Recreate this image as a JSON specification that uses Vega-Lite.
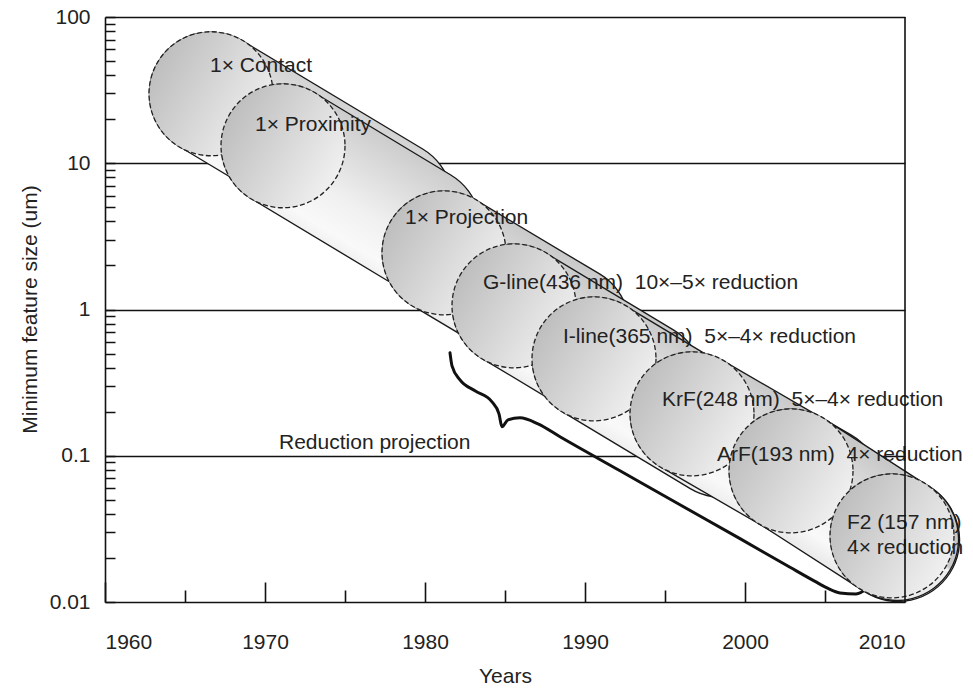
{
  "$schema": "https://vega.github.io/schema/vega-lite/v6.json",
  "width": 800,
  "height": 585,
  "autosize": "none",
  "padding": {"left": 105, "top": 17, "right": 68, "bottom": 88},
  "background": "white",
  "config": {"view": {"stroke": null}, "font": "Liberation Sans"},
  "datasets": {
    "bodies": [
      {"cyl": 1, "part": "o", "year": 1966.625, "um": 29.88, "year2": 1977.875, "um2": 5.454},
      {"cyl": 1, "part": "f", "year": 1966.625, "um": 29.88, "year2": 1977.875, "um2": 5.454},
      {"cyl": 2, "part": "o", "year": 1971.125, "um": 13.17, "year2": 1979.625, "um2": 3.622},
      {"cyl": 2, "part": "f", "year": 1971.125, "um": 13.17, "year2": 1979.625, "um2": 3.622},
      {"cyl": 3, "part": "o", "year": 1981.1875, "um": 2.442, "year2": 1988.9375, "um2": 0.7614},
      {"cyl": 3, "part": "f", "year": 1981.1875, "um": 2.442, "year2": 1988.9375, "um2": 0.7614},
      {"cyl": 4, "part": "o", "year": 1985.5625, "um": 1.06, "year2": 1993.5625, "um2": 0.3152},
      {"cyl": 4, "part": "f", "year": 1985.5625, "um": 1.06, "year2": 1993.5625, "um2": 0.3152},
      {"cyl": 5, "part": "o", "year": 1990.5625, "um": 0.46, "year2": 1998.5625, "um2": 0.1368},
      {"cyl": 5, "part": "f", "year": 1990.5625, "um": 0.46, "year2": 1998.5625, "um2": 0.1368},
      {"cyl": 6, "part": "o", "year": 1996.6875, "um": 0.1935, "year2": 2004.6875, "um2": 0.06004},
      {"cyl": 6, "part": "f", "year": 1996.6875, "um": 0.1935, "year2": 2004.6875, "um2": 0.06004},
      {"cyl": 7, "part": "o", "year": 2002.875, "um": 0.0788, "year2": 2009.5625, "um2": 0.02659},
      {"cyl": 7, "part": "f", "year": 2002.875, "um": 0.0788, "year2": 2009.5625, "um2": 0.02659},
      {"cyl": 8, "part": "o", "year": 2009.1875, "um": 0.02832, "year2": 2009.5, "um2": 0.02702},
      {"cyl": 8, "part": "f", "year": 2009.1875, "um": 0.02832, "year2": 2009.5, "um2": 0.02702}
    ],
    "caps": [
      {"name": "1× Contact", "year": 1966.625, "um": 29.88},
      {"name": "1× Proximity", "year": 1971.125, "um": 13.17},
      {"name": "1× Projection", "year": 1981.1875, "um": 2.442},
      {"name": "G-line", "year": 1985.5625, "um": 1.06},
      {"name": "I-line", "year": 1990.5625, "um": 0.46},
      {"name": "KrF", "year": 1996.6875, "um": 0.1935},
      {"name": "ArF", "year": 2002.875, "um": 0.0788},
      {"name": "F2", "year": 2009.1875, "um": 0.02832}
    ],
    "labels": [
      {"text": "1× Contact", "year": 1966.56, "um": 46.4},
      {"text": "1× Proximity", "year": 1969.375, "um": 18.34},
      {"text": "1× Projection", "year": 1978.75, "um": 4.24},
      {"text": "G-line(436 nm)\u00a0 10×–5× reduction", "year": 1983.625, "um": 1.523},
      {"text": "I-line(365 nm)\u00a0 5×–4× reduction", "year": 1988.625, "um": 0.651},
      {"text": "KrF(248 nm)\u00a0 5×–4× reduction", "year": 1994.81, "um": 0.2411},
      {"text": "ArF(193 nm)\u00a0 4× reduction", "year": 1998.25, "um": 0.1014},
      {"text": "F2 (157 nm)", "year": 2006.375, "um": 0.03475},
      {"text": "4× reduction", "year": 2006.375, "um": 0.02344},
      {"text": "Reduction projection", "year": 1970.875, "um": 0.1225}
    ],
    "brace": [
      {"i": 0, "year": 1981.5625, "um": 0.5056},
      {"i": 1, "year": 1981.6875, "um": 0.412},
      {"i": 2, "year": 1982.1875, "um": 0.3304},
      {"i": 3, "year": 1983.125, "um": 0.2779},
      {"i": 4, "year": 1984.1875, "um": 0.2337},
      {"i": 5, "year": 1984.625, "um": 0.1935},
      {"i": 6, "year": 1984.8125, "um": 0.1576},
      {"i": 7, "year": 1985.1875, "um": 0.1761},
      {"i": 8, "year": 1985.9375, "um": 0.1816},
      {"i": 9, "year": 1987.0625, "um": 0.1652},
      {"i": 10, "year": 1988.4375, "um": 0.1348},
      {"i": 11, "year": 1992.1875, "um": 0.07895},
      {"i": 12, "year": 1995.9375, "um": 0.04623},
      {"i": 13, "year": 1999.6875, "um": 0.0271},
      {"i": 14, "year": 2002.8125, "um": 0.01727},
      {"i": 15, "year": 2004.375, "um": 0.01383},
      {"i": 16, "year": 2005.125, "um": 0.01249},
      {"i": 17, "year": 2005.9375, "um": 0.01154},
      {"i": 18, "year": 2006.9375, "um": 0.01136},
      {"i": 19, "year": 2007.5625, "um": 0.01224},
      {"i": 20, "year": 2007.875, "um": 0.01324}
    ]
  },
  "layer": [
    {
      "data": {"name": "bodies"},
      "mark": {"type": "rule", "strokeCap": "round"},
      "encoding": {
        "x": {
          "field": "year", "type": "quantitative",
          "scale": {"domain": [1960, 2010], "zero": false, "nice": false},
          "axis": {
            "values": [1960, 1965, 1970, 1975, 1980, 1985, 1990, 1995, 2000, 2005, 2010],
            "format": "d",
            "labelExpr": "datum.value % 10 === 0 ? datum.label : ''",
            "labelOverlap": false,
            "grid": false,
            "tickSize": {"condition": {"test": "datum.value % 10 === 0", "value": -20}, "value": -12},
            "tickColor": "#111", "tickWidth": 1.6,
            "domainColor": "#111", "domainWidth": 1.6,
            "labelFontSize": 21, "labelColor": "#222", "labelPadding": 49,
            "title": "Years", "titleFontSize": 21, "titleFontWeight": "normal", "titleColor": "#222",
            "titleX": 400, "titleY": 80, "titleBaseline": "alphabetic", "titleAlign": "center",
            "zindex": 0
          }
        },
        "y": {
          "field": "um", "type": "quantitative",
          "scale": {"type": "log", "domain": [0.01, 100], "nice": false},
          "axis": {
            "values": [0.01, 0.02, 0.03, 0.04, 0.05, 0.06, 0.07, 0.08, 0.09, 0.1, 0.2, 0.3, 0.4, 0.5, 0.6, 0.7, 0.8, 0.9, 1, 2, 3, 4, 5, 6, 7, 8, 9, 10, 20, 30, 40, 50, 60, 70, 80, 90, 100],
            "format": "~g",
            "labelExpr": "indexof([0.01, 0.1, 1, 10, 100], datum.value) >= 0 ? datum.label : ''",
            "labelOverlap": false,
            "grid": true,
            "gridColor": {"condition": {"test": "indexof([0.1, 1, 10, 100], datum.value) >= 0", "value": "#111"}, "value": "transparent"},
            "gridWidth": 1.6,
            "tickSize": -10, "tickColor": "#111", "tickWidth": 1.5,
            "domainColor": "#111", "domainWidth": 1.6,
            "labelFontSize": 21, "labelColor": "#222", "labelPadding": 25,
            "title": "Minimum feature size (um)", "titleFontSize": 21, "titleFontWeight": "normal", "titleColor": "#222",
            "titleX": -75, "titleY": 292, "titleAngle": -90, "titleAlign": "center", "titleBaseline": "middle",
            "zindex": 0
          }
        },
        "x2": {"field": "year2"},
        "y2": {"field": "um2"},
        "stroke": {
          "condition": {"test": "datum.part === 'o'", "value": "#1a1a1a"},
          "value": {"gradient": "linear", "x1": 1, "y1": 0, "x2": 0, "y2": 1,
            "stops": [
              {"offset": 0, "color": "#c8c8c8"},
              {"offset": 0.3, "color": "#dcdcdc"},
              {"offset": 0.6, "color": "#f0f0f0"},
              {"offset": 0.85, "color": "#f9f9f9"},
              {"offset": 1, "color": "#ececec"}
            ]}
        },
        "strokeWidth": {
          "condition": {"test": "datum.part === 'o'", "value": 124.5},
          "value": 121.8
        }
      }
    },
    {
      "data": {"name": "brace"},
      "mark": {"type": "line", "color": "#111", "strokeWidth": 3, "interpolate": "monotone", "strokeCap": "round", "strokeJoin": "round"},
      "encoding": {
        "x": {"field": "year", "type": "quantitative"},
        "y": {"field": "um", "type": "quantitative"},
        "order": {"field": "i", "type": "quantitative"}
      }
    },
    {
      "data": {"name": "caps"},
      "mark": {
        "type": "point", "shape": "circle", "filled": true, "size": 15376, "opacity": 1,
        "fill": {"gradient": "linear", "x1": 0, "y1": 0.2, "x2": 1, "y2": 0.8,
          "stops": [
            {"offset": 0, "color": "#bababa"},
            {"offset": 0.45, "color": "#d4d4d4"},
            {"offset": 1, "color": "#f4f4f4"}
          ]},
        "stroke": "#222", "strokeWidth": 1.3, "strokeDash": [5, 2.5]
      },
      "encoding": {
        "x": {"field": "year", "type": "quantitative"},
        "y": {"field": "um", "type": "quantitative"}
      }
    },
    {
      "data": {"name": "labels"},
      "mark": {"type": "text", "align": "left", "baseline": "middle", "fontSize": 21, "font": "Liberation Sans", "color": "#222"},
      "encoding": {
        "x": {"field": "year", "type": "quantitative"},
        "y": {"field": "um", "type": "quantitative"},
        "text": {"field": "text", "type": "nominal"}
      }
    },
    {
      "data": {"values": [{"year": 2010}]},
      "mark": {"type": "rule", "color": "#111", "strokeWidth": 1.6},
      "encoding": {
        "x": {"field": "year", "type": "quantitative"}
      }
    }
  ]
}
